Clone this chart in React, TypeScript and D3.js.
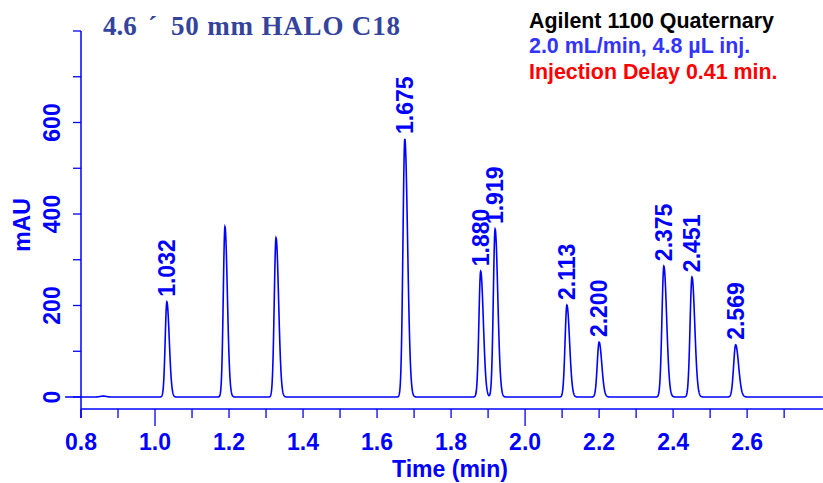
import React, { useEffect, useRef } from 'react';
import * as d3 from 'd3';

// peak table (min, mAU)
const peakTimes = [0.86, 1.032, 1.189, 1.327, 1.675, 1.88, 1.919, 2.113, 2.2, 2.375, 2.451, 2.569];
const peakHeights = [2, 208, 372, 348, 564, 275, 367, 201, 120, 286, 262, 114];
const peakLabels = ['', '1.032', '', '', '1.675', '1.880', '1.919', '2.113', '2.200', '2.375', '2.451', '2.569'];
const sigmaFront = [0.008, 0.0045, 0.0045, 0.0048, 0.005, 0.0048, 0.0048, 0.005, 0.005, 0.0052, 0.0052, 0.0055];
const sigmaTail = [0.008, 0.0065, 0.0065, 0.007, 0.0075, 0.0072, 0.0072, 0.0072, 0.0072, 0.0075, 0.0075, 0.008];

const xTicks = d3.range(0.8, 2.75, 0.1).map(v => +v.toFixed(1));
const xTickLabels = [0.8, 1.0, 1.2, 1.4, 1.6, 1.8, 2.0, 2.2, 2.4, 2.6];
const yTicks = [0, 100, 200, 300, 400, 500, 600, 700, 800];
const yTickLabels = [0, 200, 400, 600];

const W = 823, H = 483;

export default function App() {
  const svgRef = useRef<SVGSVGElement>(null);

  useEffect(() => {
    const svg = d3.select(svgRef.current);
    svg.selectAll('*').remove();

    const blue = '#0000ff';
    const x = d3.scaleLinear().domain([0.8, 2.805]).range([81, 823]);
    const y = d3.scaleLinear().domain([0, 800]).range([397, 31]);

    // trace built from the peak table
    const signal = (t: number) => {
      let s = 0;
      peakTimes.forEach((c, i) => {
        const sg = t < c ? sigmaFront[i] : sigmaTail[i];
        s += peakHeights[i] * Math.exp(-0.5 * ((t - c) / sg) ** 2);
      });
      return s;
    };
    const times = d3.range(0.757, 2.805, 0.0005);
    const line = d3.line<number>().x(t => x(t)).y(t => y(signal(t)));
    svg.append('path').datum(times).attr('d', line)
      .attr('fill', 'none').attr('stroke', blue).attr('stroke-width', 1.6);

    // axes
    svg.append('line').attr('x1', x(0.8)).attr('x2', x(0.8)).attr('y1', y(800)).attr('y2', 418)
      .attr('stroke', blue).attr('stroke-width', 1.5);
    svg.append('line').attr('x1', x(0.8)).attr('x2', W).attr('y1', 409).attr('y2', 409)
      .attr('stroke', blue).attr('stroke-width', 1.5);

    svg.selectAll('.xt').data(xTicks).enter().append('line')
      .attr('x1', d => x(d)).attr('x2', d => x(d)).attr('y1', 409)
      .attr('y2', d => (d === 1 || d === 2 ? 426 : 418))
      .attr('stroke', blue).attr('stroke-width', 1.3);
    svg.selectAll('.yt').data(yTicks).enter().append('line')
      .attr('x1', 73).attr('x2', 81).attr('y1', d => y(d)).attr('y2', d => y(d))
      .attr('stroke', blue).attr('stroke-width', 1.3);

    const sans = 'Arial, "Liberation Sans", sans-serif';
    svg.selectAll('.xl').data(xTickLabels).enter().append('text')
      .attr('x', d => x(d)).attr('y', 450).attr('text-anchor', 'middle')
      .attr('font-family', sans).attr('font-weight', 'bold').attr('font-size', 23).attr('fill', blue)
      .text(d => d.toFixed(1));
    svg.selectAll('.yl').data(yTickLabels).enter().append('text')
      .attr('transform', d => `translate(60,${y(d)}) rotate(-90)`).attr('text-anchor', 'middle')
      .attr('font-family', sans).attr('font-weight', 'bold').attr('font-size', 23).attr('fill', blue)
      .text(d => d);

    svg.append('text').attr('transform', 'translate(30,225) rotate(-90)').attr('text-anchor', 'middle')
      .attr('font-family', sans).attr('font-weight', 'bold').attr('font-size', 23).attr('fill', blue)
      .text('mAU');
    svg.append('text').attr('x', 450).attr('y', 477).attr('text-anchor', 'middle')
      .attr('font-family', sans).attr('font-weight', 'bold').attr('font-size', 23).attr('fill', blue)
      .text('Time (min)');

    // peak labels
    peakTimes.forEach((c, i) => {
      if (!peakLabels[i]) return;
      svg.append('text')
        .attr('transform', `translate(${x(c) + 8},${y(signal(c)) - 5}) rotate(-90)`)
        .attr('font-family', sans).attr('font-weight', 'bold').attr('font-size', 23).attr('fill', blue)
        .text(peakLabels[i]);
    });

    // title and notes
    const serif = '"Times New Roman", "Liberation Serif", serif';
    const title = svg.append('text').attr('y', 35)
      .attr('font-family', serif).attr('font-weight', 'bold')
      .attr('font-size', 27).attr('fill', '#34449c');
    title.append('tspan').attr('x', 103).text('4.6');
    title.append('tspan').attr('x', 148).text('´');
    title.append('tspan').attr('x', 171).attr('textLength', 229).attr('lengthAdjust', 'spacing')
      .text('50 mm HALO C18');

    const notes = [
      { t: 'Agilent 1100 Quaternary', c: '#000000', y: 28 },
      { t: '2.0 mL/min, 4.8 µL inj.', c: '#3333ff', y: 53 },
      { t: 'Injection Delay 0.41 min.', c: '#ff0000', y: 79 },
    ];
    svg.selectAll('.note').data(notes).enter().append('text')
      .attr('x', 529).attr('y', d => d.y)
      .attr('font-family', sans).attr('font-weight', 'bold').attr('font-size', 21.4).attr('fill', d => d.c)
      .text(d => d.t);
  }, []);

  return (
    <svg ref={svgRef} width={W} height={H} viewBox={`0 0 ${W} ${H}`}
      style={{ position: 'absolute', left: 0, top: 0, background: '#fff' }} />
  );
}
